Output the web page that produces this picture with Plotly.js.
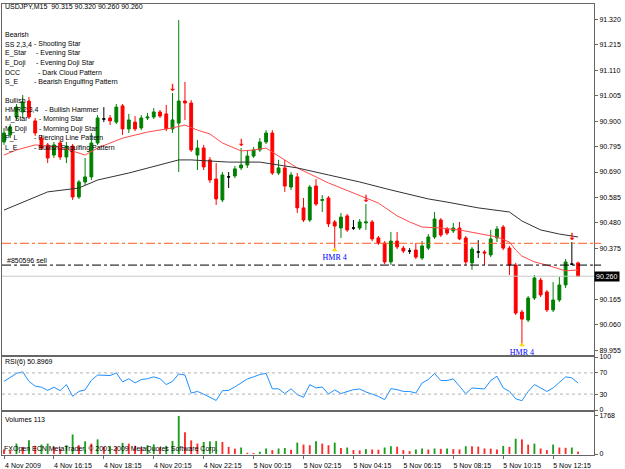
<!DOCTYPE html>
<html><head><meta charset="utf-8">
<script src="https://cdn.plot.ly/plotly-3.0.1.min.js"></script>
<style>html,body{margin:0;padding:0;background:#fff}#chart{width:625px;height:469px}</style>
</head><body><div id="chart"></div>
<script>
// ---------------- DATA ----------------
const symbolTitle = "USDJPY,M15  90.315 90.320 90.260 90.260";
const timeLabelBars = [0, 8, 16, 24, 32, 40, 48, 56, 64, 72, 80, 88];
const timeLabels = ["4 Nov 2009","4 Nov 16:15","4 Nov 18:15","4 Nov 20:15","4 Nov 22:15","5 Nov 00:15",
  "5 Nov 02:15","5 Nov 04:15","5 Nov 06:15","5 Nov 08:15","5 Nov 10:15","5 Nov 12:15"];
// 90.270 is hidden behind the bid price box in the reference
const priceTicks = [91.320, 91.215, 91.110, 91.005, 90.900, 90.795, 90.690, 90.585, 90.480, 90.375, 90.165, 90.060, 89.955];

const open = [90.814,90.843,90.917,90.938,90.983,90.901,90.830,90.802,90.760,90.810,
90.752,90.797,90.587,90.649,90.670,90.810,90.909,90.913,90.896,90.963,
90.868,90.896,90.872,90.913,90.917,90.938,90.930,90.868,90.892,90.983,
90.975,90.760,90.789,90.740,90.661,90.575,90.670,90.674,90.707,90.719,
90.756,90.781,90.814,90.851,90.686,90.707,90.628,90.670,90.542,90.492,
90.632,90.573,90.583,90.484,90.459,90.509,90.459,90.459,90.480,90.484,
90.418,90.397,90.319,90.405,90.376,90.364,90.368,90.335,90.376,90.422,
90.492,90.455,90.447,90.459,90.418,90.315,90.360,90.360,90.348,90.418,
90.463,90.376,90.306,90.112,90.079,90.170,90.244,90.195,90.121,90.162,
90.224,90.310,90.315];
const high = [90.872,90.888,90.971,91.008,91.000,90.913,90.843,90.810,90.814,90.822,
90.814,90.806,90.657,90.748,90.851,90.925,90.958,90.925,90.971,90.971,
90.930,90.921,90.925,90.934,90.954,90.946,90.967,91.016,91.317,91.062,
90.987,90.822,90.802,90.752,90.727,90.690,90.690,90.715,90.789,90.781,
90.793,90.830,90.863,90.863,90.740,90.740,90.690,90.686,90.583,90.636,
90.661,90.595,90.591,90.492,90.521,90.517,90.492,90.496,90.558,90.492,
90.426,90.405,90.443,90.443,90.385,90.376,90.397,90.405,90.434,90.525,
90.500,90.463,90.480,90.484,90.426,90.381,90.409,90.368,90.451,90.467,
90.471,90.385,90.315,90.121,90.178,90.265,90.253,90.203,90.236,90.257,
90.331,90.401,90.320];
const low = [90.802,90.830,90.905,90.913,90.909,90.839,90.781,90.727,90.748,90.740,
90.727,90.575,90.579,90.636,90.657,90.802,90.896,90.884,90.888,90.843,
90.851,90.859,90.863,90.905,90.909,90.913,90.859,90.851,90.690,90.905,
90.773,90.698,90.698,90.645,90.554,90.566,90.624,90.665,90.698,90.707,
90.748,90.773,90.806,90.678,90.678,90.608,90.616,90.521,90.484,90.484,
90.550,90.525,90.463,90.368,90.418,90.443,90.451,90.451,90.451,90.405,
90.389,90.310,90.306,90.372,90.356,90.352,90.331,90.327,90.368,90.414,
90.422,90.430,90.438,90.409,90.306,90.286,90.335,90.306,90.339,90.401,
90.368,90.265,90.100,89.976,90.071,90.162,90.174,90.112,90.112,90.154,
90.211,90.306,90.260];
const close = [90.851,90.876,90.958,90.979,90.917,90.851,90.789,90.748,90.802,90.752,
90.797,90.587,90.649,90.670,90.810,90.913,90.909,90.901,90.958,90.868,
90.905,90.868,90.913,90.917,90.938,90.921,90.868,90.905,90.983,90.975,
90.781,90.789,90.711,90.657,90.579,90.678,90.670,90.703,90.719,90.756,
90.781,90.814,90.851,90.686,90.707,90.632,90.678,90.542,90.492,90.628,
90.558,90.576,90.476,90.467,90.504,90.451,90.459,90.484,90.484,90.414,
90.397,90.319,90.405,90.381,90.364,90.364,90.339,90.385,90.422,90.496,
90.430,90.438,90.459,90.414,90.319,90.372,90.360,90.356,90.414,90.455,
90.376,90.306,90.108,90.083,90.170,90.253,90.183,90.121,90.162,90.224,
90.319,90.310,90.260];

const redMaBars = [0,2,5,9,13,15,19,23,27,29,31,33,35,38,40,42,44,47,52,57,60,63,65,67,70,73,76,79,81,82,83,85,87,89,90,92];
const redMa = [90.760,90.781,90.802,90.793,90.760,90.789,90.830,90.855,90.872,90.884,90.863,90.847,90.810,90.777,90.781,90.789,90.756,90.707,90.645,90.595,90.562,90.509,90.484,90.463,90.459,90.451,90.438,90.422,90.401,90.368,90.343,90.319,90.306,90.290,90.282,90.286];
const blackMaBars = [0,4,7,12,15,20,23,28,30,33,36,41,44,47,52,57,62,65,68,71,76,81,83,86,89,92];
const blackMa = [90.533,90.575,90.608,90.624,90.657,90.686,90.707,90.740,90.740,90.736,90.731,90.731,90.719,90.707,90.678,90.649,90.616,90.599,90.579,90.566,90.542,90.525,90.488,90.451,90.434,90.422];

const sellLevel = 90.306;      // "#850596 sell"
const orderLevel2 = 90.396;    // orange dash-dot level
const bidLevel = 90.260;
const orderLabel = "#850596 sell";

const bearishSignalBars = [27, 38, 58, 91];
const hammerBars = [53, 83];
const hammerLabels = ["HMR 4", "HMR 4"];

const rsi6 = [54,62,69,72,54,45,43,37,43,36.5,
48,26,35,38,56,66,66,65,70,53,
59,51,57.5,59,62.5,59,48,54,68,66,
32,35,30,24,18,36.5,37,43.5,51,58.7,
62.5,67,69,40,40,31,40,29,24,48,
41.6,43.5,30,38,31,35,38.4,39.7,34,30,
25.7,19.4,40.3,38.4,35,35,32,51,57.5,69,
55.6,55.6,58.7,44.8,30.8,41.6,40.3,39.7,55.6,63.8,
41.6,35,21.3,17.5,35,48,41.6,35,41.6,53,
62.5,60.6,50.9];
const rsiLevels = [70, 30];
const rsiLabel = "RSI(6) 50.8969";

const volumes = [211,181,483,330,634,380,438,483,330,250,
408,906,408,589,483,680,332,360,332,520,
483,380,300,408,450,300,380,604,1768,1012,
634,483,559,589,600,559,332,250,302,60,
50,106,257,181,257,280,200,528,438,408,
589,483,408,528,280,302,181,170,227,211,
200,302,362,340,181,136,211,257,211,257,
240,257,227,215,362,355,345,257,250,211,
378,332,711,680,438,483,257,181,438,302,
290,302,113];
const volumeLabel = "Volumes 113";
const copyright = "FXOpen ECN MetaTrader, \u00a9 2001-2009 MetaQuotes Software Corp.";

const bearishCodes = ["SS 2,3,4","E_Star","E_Doji","DCC","S_E"];
const bearishNames = ["- Shooting Star","- Evening Star","- Evening Doji Star","- Dark Cloud Pattern","- Bearish Engulfing Pattern"];
const bullishCodes = ["HMR 2,3,4","M_Star","M_Doji","P_L","L_E"];
const bullishNames = ["- Bullish Hammer","- Morning Star","- Morning Doji Star","- Piercing Line Pattern","- Bullish Engulfing Pattern"];

// ---------------- BUILD ----------------
const bars = open.map((_, i) => i);
const pick = (arr, idx) => idx.map(i => arr[i]);
const dojiIdx = bars.filter(i => open[i] === close[i]);
const bodyIdx = bars.filter(i => open[i] !== close[i]);

const FONT = "Liberation Sans, Arial, sans-serif";
const W = 625, H = 469, ML = 2, MR = 31, MT = 4, MB = 14;
const PW = W - ML - MR, PH = H - MT - MB;
const px = x => (x - ML) / PW;
const py = y => (H - MB - y) / PH;

const candleStyle = {
  increasing: {line: {color: '#008000', width: 1}, fillcolor: '#008000'},
  decreasing: {line: {color: '#ff0000', width: 1}, fillcolor: '#ff0000'}
};

const traces = [
  Object.assign({type: 'candlestick', x: bodyIdx, open: pick(open, bodyIdx), high: pick(high, bodyIdx),
    low: pick(low, bodyIdx), close: pick(close, bodyIdx), xaxis: 'x', yaxis: 'y', whiskerwidth: 0, hoverinfo: 'skip'}, candleStyle),
  {type: 'candlestick', x: dojiIdx, open: pick(open, dojiIdx), high: pick(high, dojiIdx),
    low: pick(low, dojiIdx), close: pick(close, dojiIdx), xaxis: 'x', yaxis: 'y', whiskerwidth: 0, hoverinfo: 'skip',
    increasing: {line: {color: '#000', width: 1}, fillcolor: '#000'},
    decreasing: {line: {color: '#000', width: 1}, fillcolor: '#000'}},
  {type: 'scatter', mode: 'lines', x: redMaBars, y: redMa, xaxis: 'x', yaxis: 'y',
    line: {color: '#ff4a4a', width: 1}, hoverinfo: 'skip'},
  {type: 'scatter', mode: 'lines', x: blackMaBars, y: blackMa, xaxis: 'x', yaxis: 'y',
    line: {color: '#333', width: 1}, hoverinfo: 'skip'},
  {type: 'scatter', mode: 'text', x: bearishSignalBars, y: pick(high, bearishSignalBars), xaxis: 'x', yaxis: 'y',
    text: bearishSignalBars.map(() => '\u2193'), textposition: 'top center',
    textfont: {family: 'DejaVu Sans', size: 10, color: '#ff0000', weight: 'bold'}, hoverinfo: 'skip'},
  {type: 'scatter', mode: 'markers+text', x: hammerBars, y: pick(low, hammerBars), xaxis: 'x', yaxis: 'y',
    marker: {symbol: 'triangle-up', size: 5, color: '#ffd700'},
    text: hammerLabels, textposition: 'bottom center',
    textfont: {family: 'Liberation Serif, Times New Roman, serif', size: 8, color: '#0000ff'}, hoverinfo: 'skip'},
  {type: 'scatter', mode: 'lines', x: bars, y: rsi6, xaxis: 'x2', yaxis: 'y2',
    line: {color: '#1e90ff', width: 1}, hoverinfo: 'skip'},
  {type: 'bar', x: bars, y: volumes, xaxis: 'x3', yaxis: 'y3', width: 0.3,
    marker: {color: volumes.map((v, i) => (i > 0 && v > volumes[i - 1]) ? '#1e9e1e' : '#ff2a2a'), line: {width: 0}},
    hoverinfo: 'skip'}
];

const xr = [-0.32, 94.55];
const frame = {showline: true, mirror: true, linecolor: '#666', linewidth: 1, showgrid: false, zeroline: false, fixedrange: true};
const tickFont = {family: FONT, size: 7, color: '#000'};

const annotations = [];
const addText = (text, x, y, opts) => annotations.push(Object.assign({text, x: px(x), y: py(y), xref: 'paper', yref: 'paper',
  xanchor: 'left', yanchor: 'middle', showarrow: false, font: {family: FONT, size: 7, color: '#000'}, borderpad: 0}, opts || {}));

addText(symbolTitle, 4, 7);
addText("Bearish", 4, 34);
const bearOff = [33, 35, 35, 37, 33];
bearishCodes.forEach((c, k) => { addText(c, 4, 44 + k * 9.5); addText(bearishNames[k], bearOff[k], 44 + k * 9.5); });
addText("Bullish", 4, 100);
const bullOff = [44, 38, 38, 33, 33];
bullishCodes.forEach((c, k) => { addText(c, 4, 110 + k * 9.4); addText(bullishNames[k], bullOff[k], 110 + k * 9.4); });
addText(rsiLabel, 4, 362);
addText(volumeLabel, 4, 419);
addText(copyright, 3, 449);
annotations.push({text: orderLabel, x: px(6), xref: 'paper', y: sellLevel, yref: 'y', xanchor: 'left', yanchor: 'bottom',
  showarrow: false, font: {family: FONT, size: 7, color: '#000'}, borderpad: 0});
annotations.push({text: bidLevel.toFixed(3), x: 1, xref: 'paper', y: bidLevel, yref: 'y', xanchor: 'left', yanchor: 'middle',
  showarrow: false, bgcolor: '#000', font: {family: FONT, size: 7, color: '#fff'}, borderpad: 1});

const shapes = [
  {type: 'line', xref: 'paper', x0: 0, x1: 1, yref: 'y', y0: bidLevel, y1: bidLevel, line: {color: '#c8c8c8', width: 1}},
  {type: 'line', xref: 'paper', x0: 0, x1: 1, yref: 'y', y0: orderLevel2, y1: orderLevel2, line: {color: '#ff5a1f', width: 1, dash: 'dashdot'}},
  {type: 'line', xref: 'paper', x0: 0, x1: 1, yref: 'y', y0: sellLevel, y1: sellLevel, line: {color: '#000', width: 1, dash: 'dashdot'}},
  {type: 'line', xref: 'paper', x0: 1, x1: 1.012, yref: 'y', y0: orderLevel2, y1: orderLevel2, line: {color: '#ff5a1f', width: 1}},
  {type: 'line', xref: 'paper', x0: 1, x1: 1.012, yref: 'y', y0: sellLevel, y1: sellLevel, line: {color: '#000', width: 1}}
].concat(rsiLevels.map(l => ({type: 'line', xref: 'paper', x0: 0, x1: 1, yref: 'y2', y0: l, y1: l,
  line: {color: '#b0b0b0', width: 1, dash: 'dot'}})));

const layout = {
  width: W, height: H, margin: {l: ML, r: MR, t: MT, b: MB},
  paper_bgcolor: '#fff', plot_bgcolor: '#fff', showlegend: false, dragmode: false,
  boxgap: 0.35,
  xaxis: Object.assign({anchor: 'y', range: xr, showticklabels: false, ticks: '', rangeslider: {visible: false}}, frame),
  xaxis2: Object.assign({anchor: 'y2', range: xr, matches: 'x', showticklabels: false, ticks: ''}, frame),
  xaxis3: Object.assign({anchor: 'y3', range: xr, matches: 'x', tickmode: 'array', tickvals: timeLabelBars, ticktext: timeLabels,
    ticks: 'outside', ticklen: 3, tickcolor: '#666', tickfont: tickFont, ticklabelshift: 19, ticklabelstandoff: 1}, frame),
  yaxis: Object.assign({anchor: 'x', domain: [py(355), 1], range: [91.400 - 355 / 242.3, 91.400 - 4 / 242.3], side: 'right',
    tickmode: 'array', tickvals: priceTicks, tickformat: '.3f', ticks: 'outside', ticklen: 3, tickcolor: '#666', tickfont: tickFont}, frame),
  yaxis2: Object.assign({anchor: 'x2', domain: [py(410), py(357)], range: [0, 100], side: 'right',
    tickmode: 'array', tickvals: [0, 30, 70, 100], ticks: 'outside', ticklen: 3, tickcolor: '#666', tickfont: tickFont}, frame),
  yaxis3: Object.assign({anchor: 'x3', domain: [0, py(412)], range: [-45, 1949], side: 'right',
    tickmode: 'array', tickvals: [0, 1768], ticks: 'outside', ticklen: 3, tickcolor: '#666', tickfont: tickFont}, frame),
  annotations, shapes
};

Plotly.newPlot('chart', traces, layout, {staticPlot: true, displayModeBar: false});
</script></body></html>
